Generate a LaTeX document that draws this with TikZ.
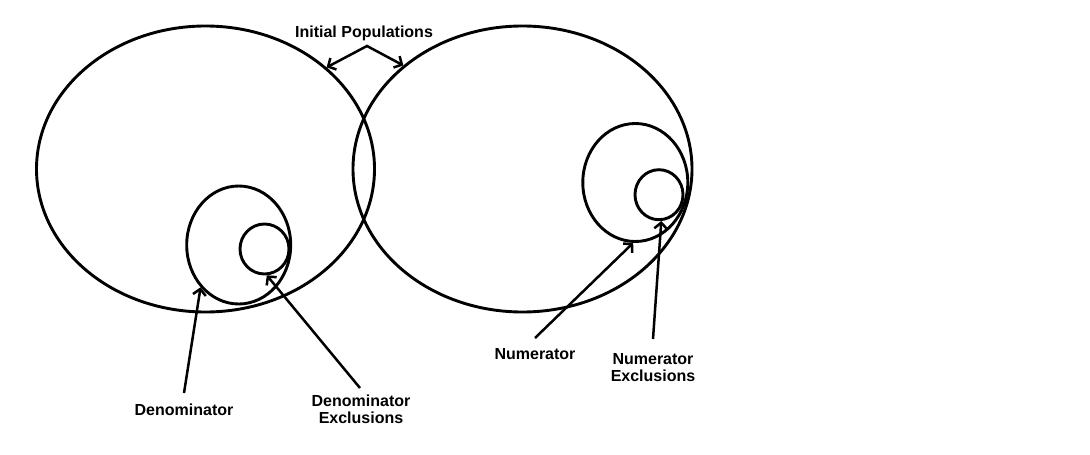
\documentclass[tikz,border=0pt]{standalone}
\usepackage{fontspec}
\setmainfont{Liberation Sans}
\usetikzlibrary{shapes.geometric,arrows.meta}
\begin{document}
\begin{tikzpicture}[x=1pt,y=-1pt,
  popshape/.style={draw, ellipse, inner sep=0pt, line width=2.9pt},
  lbl/.style={font=\bfseries\fontsize{16}{17}\selectfont, align=center, inner sep=0pt},
  arr/.style={line width=2.5pt, -{Straight Barb[length=6pt,width=13pt]}},
  darr/.style={line width=2.5pt, {Straight Barb[length=6pt,width=13pt]}-{Straight Barb[length=6pt,width=13pt]}}
]
\useasboundingbox (0,0) rectangle (1090,455);
% big populations
\node[popshape, minimum width=338pt, minimum height=286pt] (lpop) at (205.5,169) {};
\node[popshape, minimum width=339pt, minimum height=286pt] (rpop) at (522.5,169) {};
% denominator
\node[popshape, minimum width=104pt, minimum height=118pt] (dm) at (238.7,245) {};
\node[popshape, minimum width=49pt, minimum height=50pt] (ds) at (264.5,249) {};
% numerator
\node[popshape, minimum width=105pt, minimum height=118pt] (nm) at (635.3,182.5) {};
\node[popshape, minimum width=48pt, minimum height=50pt] (ns) at (659,194.7) {};
% labels
\node[lbl] (ip) at (364,33) {Initial Populations};
\node[lbl] (den) at (184,410) {Denominator};
\node[lbl] (dex) at (361,409) {Denominator\\Exclusions};
\node[lbl] (num) at (535,354) {Numerator};
\node[lbl] (nex) at (653,368) {Numerator\\Exclusions};
% connector points
\coordinate (apex) at (367,46);
\coordinate (dens) at (184,393);
\coordinate (dexs) at (360,388);
\coordinate (nums) at (535,338);
\coordinate (nexs) at (653,339);
% connectors
\draw[darr] (lpop.40) -- (apex) -- (rpop.139.3);
\draw[arr] (dens) -- (dm.228.6);
\draw[arr] (dexs) -- (ds.275.5);
\draw[arr] (nums) -- (nm.268);
\draw[arr] (nexs) -- (ns.275);
\end{tikzpicture}
\end{document}
